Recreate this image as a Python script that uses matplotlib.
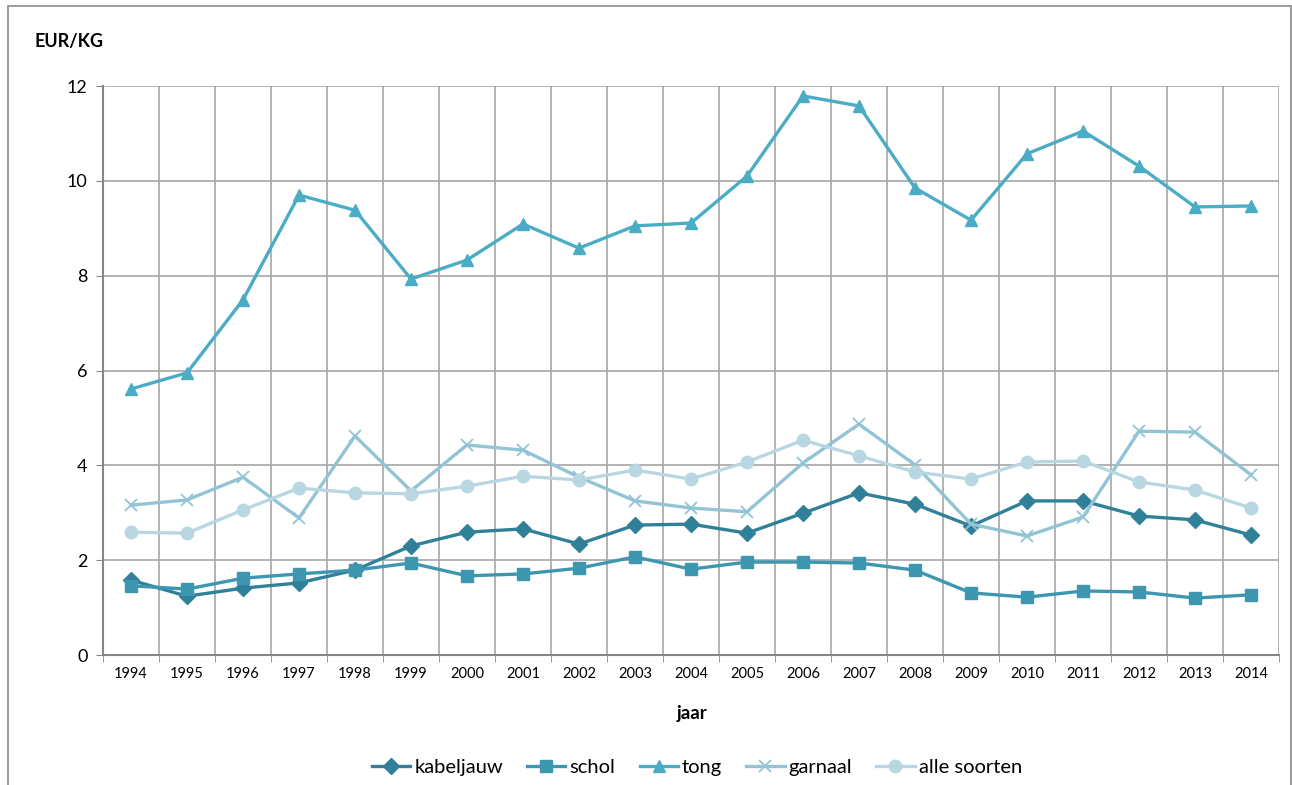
import numpy as np
import matplotlib
matplotlib.use("Agg")
import matplotlib.pyplot as plt
from matplotlib.patches import Rectangle

# -----------------------------
# DATA
# -----------------------------

years = [str(y) for y in range(1994, 2015)]

kabeljauw = [1.58, 1.24, 1.41, 1.52, 1.79, 2.30, 2.59, 2.66, 2.34, 2.74, 2.76,
             2.57, 2.99, 3.42, 3.18, 2.72, 3.25, 3.25, 2.93, 2.85, 2.53]
schol = [1.46, 1.39, 1.62, 1.71, 1.79, 1.94, 1.67, 1.71, 1.83, 2.07, 1.81,
         1.96, 1.96, 1.94, 1.79, 1.31, 1.22, 1.35, 1.33, 1.20, 1.27]
tong = [5.61, 5.95, 7.49, 9.70, 9.38, 7.93, 8.33, 9.09, 8.58, 9.05, 9.11,
        10.10, 11.79, 11.58, 9.85, 9.17, 10.57, 11.05, 10.31, 9.45, 9.47]
garnaal = [3.16, 3.27, 3.75, 2.89, 4.62, 3.46, 4.43, 4.32, 3.75, 3.25, 3.10,
           3.02, 4.05, 4.87, 4.01, 2.76, 2.51, 2.91, 4.72, 4.70, 3.80]
alle_soorten = [2.59, 2.57, 3.06, 3.52, 3.42, 3.40, 3.56, 3.77, 3.69, 3.90, 3.71,
                4.07, 4.53, 4.20, 3.86, 3.71, 4.07, 4.09, 3.65, 3.48, 3.10]

series = [
    ("kabeljauw", kabeljauw, "#31809A", "D", 8),
    ("schol", schol, "#3D97B0", "s", 9),
    ("tong", tong, "#4BACC6", "^", 9),
    ("garnaal", garnaal, "#92C4D6", "x", 9),
    ("alle soorten", alle_soorten, "#B9D7E3", "o", 9),
]

plt.rcParams['font.family'] = ['Lato', 'DejaVu Sans']

# -----------------------------
# FIGURE
# -----------------------------

fig = plt.figure(figsize=(12.92, 7.85), dpi=100)
ax = fig.add_axes([103 / 1292, 1 - 655 / 785, 1176 / 1292, 569 / 785])

# outer frame of the chart
fig.patches.append(Rectangle((8 / 1292, -0.1), 1283 / 1292, 1 - 6 / 785 + 0.1,
                             transform=fig.transFigure, fill=False,
                             edgecolor="#8C8C8C", linewidth=1.2))

x = np.arange(len(years))

for name, vals, color, marker, ms in series:
    if marker == "x":
        ax.plot(x, vals, color=color, linewidth=2.4, marker=marker,
                markersize=ms, markeredgewidth=1.3, label=name, zorder=3)
    else:
        ax.plot(x, vals, color=color, linewidth=2.4, marker=marker,
                markersize=ms, markeredgecolor=color, label=name, zorder=3)

ax.set_xlim(-0.5, len(years) - 0.5)
ax.set_ylim(0, 12)
ax.set_yticks(np.arange(0, 13, 2))

ax.set_xticks(x)
ax.set_xticklabels(years, fontsize=10.5)
ax.set_xticks(np.arange(-0.5, len(years)), minor=True)
ax.tick_params(axis='x', which='major', length=0, pad=9)
ax.tick_params(axis='x', which='minor', length=5, color="#868686", direction='out')
ax.tick_params(axis='y', labelsize=13, length=5, color="#868686", pad=6)

ax.grid(True, axis='y', which='major', color="#A6A6A6", linewidth=1.2, zorder=0)
ax.grid(True, axis='x', which='minor', color="#A6A6A6", linewidth=1.2, zorder=0)
ax.set_axisbelow(True)

for side in ["top", "right"]:
    ax.spines[side].set_visible(False)
ax.spines["left"].set_color("#868686")
ax.spines["bottom"].set_color("#868686")
ax.spines["left"].set_linewidth(1.5)
ax.spines["bottom"].set_linewidth(1.5)

fig.text(35 / 1292, 1 - 42 / 785, "EUR/KG", fontsize=13, fontweight='bold',
         va='center', ha='left')
fig.text(692 / 1292, 1 - 714 / 785, "jaar", fontsize=13.5, fontweight='bold',
         va='center', ha='center')

fig.legend(loc='center', bbox_to_anchor=(697 / 1292, 1 - 767 / 785), ncol=5,
           frameon=False, fontsize=14.5, handlelength=1.9, handletextpad=0.2,
           columnspacing=1.2)

plt.savefig("out.png", dpi=100)
